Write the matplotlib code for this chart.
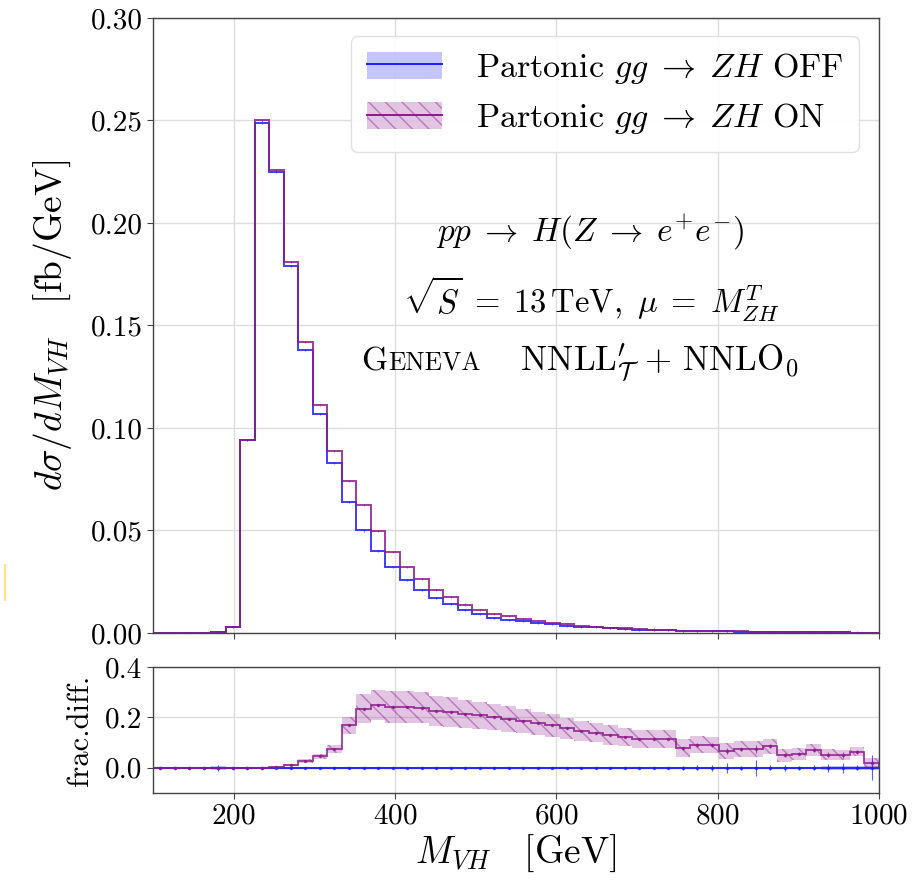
import numpy as np
import matplotlib
matplotlib.use("Agg")
import matplotlib.pyplot as plt
from matplotlib.patches import Patch
from matplotlib.lines import Line2D
from matplotlib.offsetbox import TextArea, HPacker, AnchoredOffsetbox
from matplotlib.ticker import MultipleLocator, FormatStrFormatter

plt.rcParams["font.family"] = "serif"
plt.rcParams["font.serif"] = ["cmr10"]
plt.rcParams["mathtext.fontset"] = "cm"
plt.rcParams["axes.formatter.use_mathtext"] = True
plt.rcParams["hatch.linewidth"] = 1.0

# 18 GeV bins between 100 and 1000 GeV
edges = np.linspace(100, 1000, 51)
centres = 0.5 * (edges[1:] + edges[:-1])

# dsigma/dM_VH [fb/GeV], gg -> ZH switched off
xsec_off = [0.0, 0.0, 0.0, 0.0001, 0.0005, 0.003, 0.094, 0.249, 0.225, 0.179,
            0.138, 0.107, 0.083, 0.064, 0.050, 0.040, 0.032, 0.026, 0.021, 0.017,
            0.014, 0.0114, 0.0093, 0.0075, 0.0065, 0.0057, 0.0049, 0.0042, 0.0036, 0.0031,
            0.0027, 0.0023, 0.0020, 0.0017, 0.0015, 0.0013, 0.0011, 0.0010, 0.0009, 0.0008,
            0.0007, 0.0006, 0.00052, 0.00046, 0.0004, 0.00035, 0.0003, 0.00026, 0.00023, 0.0002]

# dsigma/dM_VH [fb/GeV], gg -> ZH switched on
xsec_on = [0.0, 0.0, 0.0, 0.0001, 0.0005, 0.003, 0.094, 0.250, 0.226, 0.181,
           0.142, 0.111, 0.089, 0.074, 0.0625, 0.0498, 0.0396, 0.0321, 0.0264, 0.0212,
           0.0175, 0.0139, 0.0114, 0.0093, 0.0082, 0.0070, 0.0058, 0.0049, 0.0042, 0.0036,
           0.0031, 0.0026, 0.0022, 0.0019, 0.0017, 0.0015, 0.0012, 0.0011, 0.0010, 0.00085,
           0.00075, 0.00065, 0.00056, 0.00048, 0.00042, 0.00037, 0.00032, 0.00027, 0.00024, 0.0002]

# fractional difference with respect to the OFF prediction
frac_on = [0.0, 0.0, 0.0, 0.0, 0.0, 0.0, 0.0, 0.0, 0.005, 0.013,
           0.027, 0.046, 0.074, 0.168, 0.235, 0.248, 0.241, 0.240, 0.239, 0.226,
           0.221, 0.215, 0.208, 0.202, 0.194, 0.186, 0.176, 0.168, 0.156, 0.147,
           0.140, 0.130, 0.122, 0.113, 0.115, 0.115, 0.078, 0.092, 0.090, 0.068,
           0.074, 0.074, 0.085, 0.049, 0.055, 0.071, 0.051, 0.051, 0.064, 0.019]

# scale-variation band half widths of the fractional difference
band_on = [0.002, 0.002, 0.002, 0.002, 0.002, 0.002, 0.002, 0.002, 0.003, 0.004,
           0.006, 0.010, 0.017, 0.035, 0.057, 0.060, 0.063, 0.063, 0.062, 0.060,
           0.058, 0.056, 0.054, 0.052, 0.050, 0.048, 0.046, 0.044, 0.042, 0.040,
           0.039, 0.038, 0.037, 0.036, 0.036, 0.036, 0.035, 0.034, 0.033, 0.032,
           0.032, 0.032, 0.030, 0.025, 0.024, 0.023, 0.022, 0.020, 0.018, 0.020]
band_off = [0.003] * 4 + [0.008] + [0.003] * 31 + [0.005] * 10 + [0.007] * 4

# statistical errors on the fractional difference
stat_off = [0.001] * 4 + [0.012] + [0.001] * 31 + [0.008, 0.010, 0.012, 0.020,
            0.008, 0.032, 0.010, 0.012, 0.008, 0.010, 0.015, 0.020, 0.010, 0.050]
stat_on = [0.001] * 4 + [0.004] + [0.002] * 31 + [0.006, 0.008, 0.008, 0.012,
           0.006, 0.015, 0.008, 0.008, 0.006, 0.008, 0.010, 0.012, 0.008, 0.015]

c_off = "#1a1aff"
c_on = "#8c1a8c"

xsec_off = np.array(xsec_off)
xsec_on = np.array(xsec_on)
frac_on = np.array(frac_on)
band_on = np.array(band_on)
band_off = np.array(band_off)
frac_off = np.zeros_like(frac_on)

fig = plt.figure(figsize=(9.2, 8.81), dpi=100)
ax = fig.add_axes([0.1663, 0.2815, 0.7891, 0.6981])
rax = fig.add_axes([0.1663, 0.0999, 0.7891, 0.1430], sharex=ax)

# main distribution
ax.stairs(xsec_off, edges, color=c_off, lw=1.4, alpha=0.85)
ax.stairs(xsec_on, edges, color=c_on, lw=1.4, alpha=0.85)
ax.errorbar(centres, xsec_off, yerr=0.0005, fmt="none", ecolor=c_off, elinewidth=0.8, alpha=0.6)
ax.errorbar(centres, xsec_on, yerr=0.0005, fmt="none", ecolor=c_on, elinewidth=0.8, alpha=0.6)

ax.set_xlim(100, 1000)
ax.set_ylim(0, 0.30)
ax.yaxis.set_major_locator(MultipleLocator(0.05))
ax.yaxis.set_major_formatter(FormatStrFormatter("%.2f"))
ax.xaxis.set_major_locator(MultipleLocator(200))
ax.tick_params(axis="x", labelbottom=False)
ax.set_ylabel(r"$d\sigma/dM_{VH}\quad[\mathrm{fb/GeV}]$", fontsize=27, labelpad=12)

# ratio panel
rax.stairs(frac_off + band_off, edges, baseline=frac_off - band_off, fill=True,
           facecolor=c_off, alpha=0.25, lw=0)
rax.stairs(frac_on + band_on, edges, baseline=frac_on - band_on, fill=True,
           facecolor=(0.55, 0.1, 0.55, 0.25), edgecolor=(0.55, 0.1, 0.55, 0.45),
           hatch="\\\\", lw=0)
rax.stairs(frac_off, edges, color=c_off, lw=1.5, alpha=0.9)
rax.stairs(frac_on, edges, color=c_on, lw=1.3, alpha=0.85)
rax.errorbar(centres, frac_off, yerr=stat_off, fmt=".", ms=3, color=c_off,
             elinewidth=0.8, alpha=0.7)
rax.errorbar(centres, frac_on, yerr=stat_on, fmt=".", ms=3, color=c_on,
             elinewidth=0.8, alpha=0.7)

rax.set_ylim(-0.1, 0.4)
rax.yaxis.set_major_locator(MultipleLocator(0.2))
rax.yaxis.set_major_formatter(FormatStrFormatter("%.1f"))
rax.set_ylabel("frac.diff.", fontsize=22, labelpad=8)
rax.set_xlabel(r"$M_{VH}\quad[\mathrm{GeV}]$", fontsize=27, labelpad=2)

for a in (ax, rax):
    a.grid(True, color="#dddddd", lw=1.0)
    a.set_axisbelow(True)
    a.tick_params(labelsize=21, direction="out", length=4, color="#444444")
    for s in a.spines.values():
        s.set_color("#444444")
        s.set_linewidth(1.0)

# legend
h_off = (Patch(facecolor=c_off, alpha=0.25, lw=0), Line2D([], [], color=c_off, lw=1.4))
h_on = (Patch(facecolor=(0.55, 0.1, 0.55, 0.25), edgecolor=(0.55, 0.1, 0.55, 0.45),
              hatch="\\\\", lw=0), Line2D([], [], color=c_on, lw=1.4))
ax.legend([h_off, h_on],
          [r"Partonic $gg\;\to\;ZH$ OFF", r"Partonic $gg\;\to\;ZH$ ON"],
          loc="upper right", bbox_to_anchor=(0.972, 0.971), borderaxespad=0,
          fontsize=24.5, handlelength=2.2, handleheight=0.85, handletextpad=1.0,
          borderpad=0.45, labelspacing=0.45, framealpha=0.9, edgecolor="#dddddd")

# process labels
ax.text(0.602, 0.652, r"$pp\;\to\;H(Z\;\to\;e^{+}e^{-})$", transform=ax.transAxes,
        ha="center", va="center", fontsize=24)
ax.text(0.604, 0.543, r"$\sqrt{S}\;=\;13\,\mathrm{TeV},\ \mu\;=\;M^{T}_{ZH}$",
        transform=ax.transAxes, ha="center", va="center", fontsize=23.5)

geneva = HPacker(children=[TextArea("G", textprops=dict(fontsize=24)),
                           TextArea("ENEVA", textprops=dict(fontsize=18.5)),
                           TextArea(r"$\quad\;\mathrm{NNLL}^{\prime}_{\mathcal{T}}\,+\,\mathrm{NNLO}_{0}$",
                                    textprops=dict(fontsize=25))],
                 align="baseline", pad=0, sep=1)
ax.add_artist(AnchoredOffsetbox(loc="center", child=geneva, frameon=False,
                                bbox_to_anchor=(0.588, 0.44),
                                bbox_transform=ax.transAxes, pad=0, borderpad=0))

# faint mark at the left edge
fig.add_artist(Line2D([5 / 920, 5 / 920], [1 - 565 / 881, 1 - 600 / 881],
                      color="#ffe680", lw=1.5))

fig.savefig("out.png", dpi=100)
